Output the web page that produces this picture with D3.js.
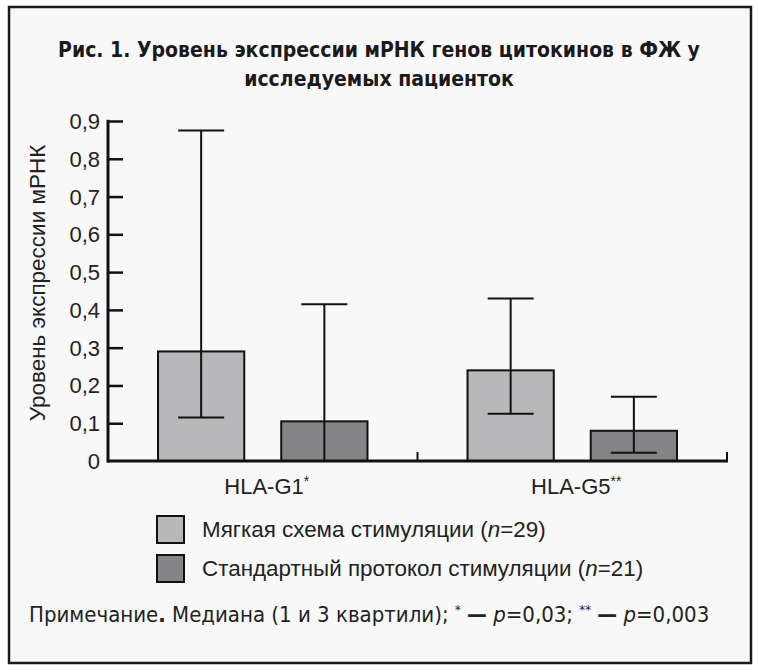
<!DOCTYPE html>
<html>
<head>
<meta charset="utf-8">
<script src="https://cdn.jsdelivr.net/npm/d3@7"></script>
<style>
  html, body { margin: 0; padding: 0; background: #ffffff; }
  svg { display: block; }
</style>
</head>
<body>
<svg id="chart" width="758" height="672"></svg>
<script>
// ---- data ----
const categories = ["HLA-G1", "HLA-G5"];
const categorySup = ["*", "**"];
const seriesNames = ["Мягкая схема стимуляции", "Стандартный протокол стимуляции"];
const seriesN = [29, 21];
const softMedian = [0.29, 0.24];
const softQ1 = [0.115, 0.125];
const softQ3 = [0.875, 0.43];
const stdMedian = [0.105, 0.08];
const stdQ1 = [0.0, 0.022];
const stdQ3 = [0.415, 0.17];
const yTicks = [0, 0.1, 0.2, 0.3, 0.4, 0.5, 0.6, 0.7, 0.8, 0.9];
const titleLines = ["Рис. 1. Уровень экспрессии мРНК генов цитокинов в ФЖ у", "исследуемых пациенток"];
const yLabel = "Уровень экспрессии мРНК";

const colors = ["#b8b8ba", "#858587"];
const series = [
  { median: softMedian, q1: softQ1, q3: softQ3 },
  { median: stdMedian, q1: stdQ1, q3: stdQ3 }
];

const svg = d3.select("#chart");

// frame
svg.append("rect").attr("x", 9).attr("y", 7).attr("width", 742).attr("height", 656)
  .attr("fill", "#f8f8f8").attr("stroke", "#1a1a1a").attr("stroke-width", 2.5);

// title
const condensed = "'Liberation Sans Narrow', 'DejaVu Sans Condensed', 'Roboto Condensed', sans-serif";
const regular = "'Liberation Sans', Arial, Helvetica, sans-serif";
svg.append("g").selectAll("text").data(titleLines).join("text")
  .attr("x", 379).attr("y", (d, i) => 57 + i * 29)
  .attr("text-anchor", "middle")
  .attr("font-family", condensed).attr("font-weight", "bold")
  .attr("font-size", 21).attr("fill", "#1a1a1a")
  .text(d => d);

// scales
const x = d3.scaleBand().domain(categories).range([108, 727]).paddingInner(0).paddingOuter(0);
const xs = d3.scaleBand().domain(d3.range(series.length)).range([0, x.bandwidth()])
  .paddingInner(0.3).paddingOuter(0.406);
const y = d3.scaleLinear().domain([0, 0.9]).range([461, 121]);

const fmt = v => d3.format(".1f")(v).replace(".", ",").replace(/^0,0$/, "0");

// bars
const g = svg.append("g");
series.forEach((s, si) => {
  g.selectAll(".bar" + si).data(categories).join("rect")
    .attr("x", c => x(c) + xs(si))
    .attr("y", (c, i) => y(s.median[i]))
    .attr("width", xs.bandwidth())
    .attr("height", (c, i) => y(0) - y(s.median[i]))
    .attr("fill", colors[si]).attr("stroke", "#111").attr("stroke-width", 2);
});

// error bars
const capW = 46;
series.forEach((s, si) => {
  categories.forEach((c, i) => {
    const cx = x(c) + xs(si) + xs.bandwidth() / 2;
    g.append("line").attr("x1", cx).attr("x2", cx)
      .attr("y1", y(s.q1[i])).attr("y2", y(s.q3[i]))
      .attr("stroke", "#111").attr("stroke-width", 2);
    g.append("line").attr("x1", cx - capW / 2).attr("x2", cx + capW / 2)
      .attr("y1", y(s.q3[i])).attr("y2", y(s.q3[i]))
      .attr("stroke", "#111").attr("stroke-width", 2);
    if (s.q1[i] > 0) {
      g.append("line").attr("x1", cx - capW / 2).attr("x2", cx + capW / 2)
        .attr("y1", y(s.q1[i])).attr("y2", y(s.q1[i]))
        .attr("stroke", "#111").attr("stroke-width", 2);
    }
  });
});

// y axis
const yAxis = d3.axisRight(y).tickValues(yTicks).tickSize(15).tickFormat("");
const ya = svg.append("g").attr("transform", "translate(108,0)").call(yAxis);
ya.select(".domain").remove();
ya.selectAll(".tick line").attr("stroke", "#111").attr("stroke-width", 2.5);
ya.selectAll(".tick").filter(d => d === 0).select("line").remove();
svg.append("line").attr("x1", 108).attr("x2", 108).attr("y1", y(0.9) - 1.2).attr("y2", y(0) + 1.5)
  .attr("stroke", "#111").attr("stroke-width", 3);
svg.append("g").selectAll("text").data(yTicks).join("text")
  .attr("x", 100).attr("y", d => y(d) + 8)
  .attr("text-anchor", "end")
  .attr("font-family", regular).attr("font-size", 22).attr("fill", "#222")
  .text(fmt);

// x axis
svg.append("line").attr("x1", 107).attr("x2", 728).attr("y1", y(0)).attr("y2", y(0))
  .attr("stroke", "#111").attr("stroke-width", 3);
const boundaries = categories.slice(1).map(c => x(c)).concat([x.range()[1]]);
svg.append("g").selectAll("line").data(boundaries).join("line")
  .attr("x1", d => d).attr("x2", d => d).attr("y1", y(0)).attr("y2", y(0) - 9)
  .attr("stroke", "#111").attr("stroke-width", 2);

// x labels
const xl = svg.append("g").selectAll("text").data(categories).join("text")
  .attr("x", c => x(c) + x.bandwidth() / 2 + 4).attr("y", 494)
  .attr("text-anchor", "middle")
  .attr("font-family", regular).attr("font-size", 22).attr("fill", "#222");
xl.append("tspan").text(c => c);
xl.append("tspan").attr("dy", -8).attr("font-size", 14).text((c, i) => categorySup[i]);

// y label
svg.append("text")
  .attr("transform", "translate(45,283) rotate(-90)")
  .attr("text-anchor", "middle")
  .attr("font-family", regular).attr("font-size", 22.5).attr("fill", "#222")
  .text(yLabel);

// legend
const lg = svg.append("g").selectAll("g").data(seriesNames).join("g")
  .attr("transform", (d, i) => `translate(157,${516 + i * 39})`);
lg.append("rect").attr("width", 27).attr("height", 27)
  .attr("fill", (d, i) => colors[i]).attr("stroke", "#111").attr("stroke-width", 2);
const lt = lg.append("text").attr("x", 45).attr("y", 21)
  .attr("font-family", regular).attr("font-size", 22.4).attr("fill", "#222");
lt.append("tspan").text(d => d + " (");
lt.append("tspan").attr("font-style", "italic").text("n");
lt.append("tspan").text((d, i) => "=" + seriesN[i] + ")");

// note
const note = svg.append("text").attr("x", 29).attr("y", 622)
  .attr("font-family", condensed).attr("font-size", 22).attr("fill", "#222");
note.append("tspan").text("Примечание");
note.append("tspan").attr("font-weight", "bold").text(".");
note.append("tspan").text(" Медиана (1 и 3 квартили); ");
note.append("tspan").attr("font-size", 13).attr("dy", -8).text("*");
note.append("tspan").attr("dy", 8).text(" ");
note.append("tspan").attr("font-weight", "bold").text("—");
note.append("tspan").text(" ");
note.append("tspan").attr("font-style", "italic").text("p");
note.append("tspan").text("=0,03; ");
note.append("tspan").attr("font-size", 13).attr("dy", -8).text("**");
note.append("tspan").attr("dy", 8).text(" ");
note.append("tspan").attr("font-weight", "bold").text("—");
note.append("tspan").text(" ");
note.append("tspan").attr("font-style", "italic").text("p");
note.append("tspan").text("=0,003");
</script>
</body>
</html>
